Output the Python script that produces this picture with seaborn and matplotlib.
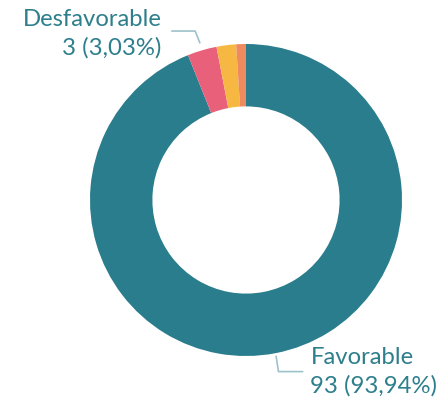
import numpy as np
import matplotlib
matplotlib.use("Agg")
import matplotlib.pyplot as plt
import seaborn as sns

# datos del gráfico (sentido horario desde arriba)
categorias = ["Favorable", "Desfavorable", "Neutral", "Otro"]
valores = [93, 3, 2, 1]
colores = ["#2A7D8C", "#E8607A", "#F6B843", "#EF8A5E"]
etiquetas_mostrar = ["Favorable", "Desfavorable"]

sns.set_theme(style="white")
plt.rcParams["font.family"] = ["Lato", "DejaVu Sans"]

color_texto = "#2E7F8C"
color_linea = "#9CC3CA"

fig = plt.figure(figsize=(4.38, 4.08), dpi=100)
ax = fig.add_axes([90 / 438, 52 / 408, 312 / 438, 312 / 408])

wedges, _ = ax.pie(valores, colors=colores, startangle=90, counterclock=False,
                   radius=1, wedgeprops=dict(width=0.4, linewidth=0))
ax.set_xlim(-1, 1)
ax.set_ylim(-1, 1)
ax.set_aspect("equal")
ax.axis("off")

total = sum(valores)
for w, cat, val in zip(wedges, categorias, valores):
    if cat not in etiquetas_mostrar:
        continue
    ang = np.deg2rad((w.theta1 + w.theta2) / 2)
    x0, y0 = np.cos(ang), np.sin(ang)
    pct = f"{val / total * 100:.2f}".replace(".", ",")
    texto = f"{cat}\n{val} ({pct}%)"
    if y0 > 0:
        sx, sy = 1.05 * x0, 1.05 * y0
        ex, ey = sx - 0.03, 1.083
        hx = ex - 0.15
        ax.plot([sx, ex, hx], [sy, ey, ey], color=color_linea, lw=1.2, clip_on=False)
        ax.text(hx - 0.065, 1.067, texto, ha="right", va="center", fontsize=17.2,
                color=color_texto, linespacing=1.4)
    else:
        sx, sy = 1.02 * x0, 1.02 * y0
        ex, ey = sx + 0.015, -1.10
        hx = ex + 0.155
        ax.plot([sx, ex, hx], [sy, ey, ey], color=color_linea, lw=1.2, clip_on=False)
        ax.text(hx + 0.05, -1.10, texto, ha="left", va="center", fontsize=17.2,
                color=color_texto, linespacing=1.4)

fig.savefig("out.png", dpi=100)
